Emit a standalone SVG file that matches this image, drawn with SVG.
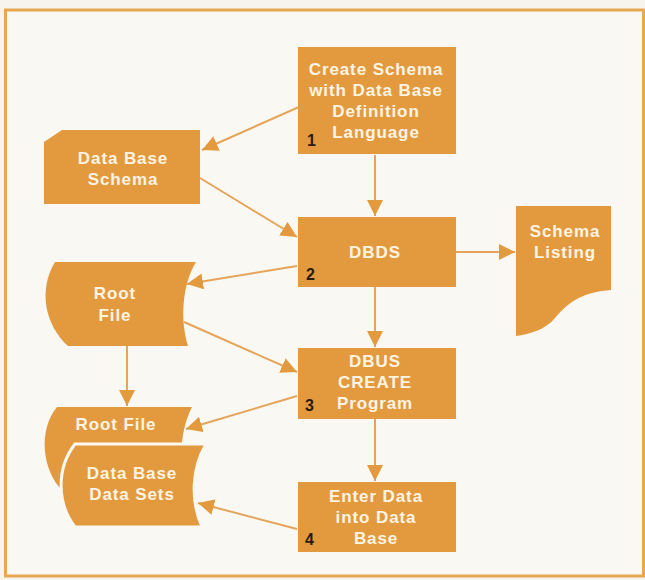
<svg xmlns="http://www.w3.org/2000/svg" width="645" height="580" viewBox="0 0 645 580">
  <defs>
    <marker id="ah" markerUnits="userSpaceOnUse" markerWidth="16" markerHeight="16" refX="16" refY="8" orient="auto">
      <path d="M0,0 L16,8 L0,16 Z" fill="#e39a3f"/>
    </marker>
    <style>
      .box { fill: #e39a3f; }
      .lbl { font-family: "Liberation Sans", Arial, sans-serif; font-weight: bold; font-size: 17px; letter-spacing: 0.9px; fill: #fdf4e3; text-anchor: middle; }
      .num { font-family: "Liberation Sans", Arial, sans-serif; font-weight: bold; font-size: 16px; fill: #2b1a08; }
      .con line { stroke: #e5a459; stroke-width: 2; marker-end: url(#ah); }
    </style>
  </defs>
  <rect x="0" y="0" width="645" height="580" fill="#f7f4ee"/>
  <rect x="5.5" y="10" width="638" height="566" fill="#faf8f3" stroke="#e6a850" stroke-width="3"/>

  <g id="connectors" class="con">
    <line x1="299" y1="107" x2="202" y2="150"/>
    <line x1="200" y1="178" x2="297" y2="237"/>
    <line x1="375" y1="155" x2="375" y2="216"/>
    <line x1="456" y1="252" x2="515" y2="252"/>
    <line x1="297" y1="266" x2="187" y2="284"/>
    <line x1="375" y1="287" x2="375" y2="347"/>
    <line x1="184" y1="322" x2="297" y2="372"/>
    <line x1="127" y1="346" x2="127" y2="406"/>
    <line x1="297" y1="396" x2="186" y2="429"/>
    <line x1="375" y1="419" x2="375" y2="481"/>
    <line x1="297" y1="529" x2="198" y2="503"/>
  </g>

  <g id="create-schema">
    <rect class="box" x="298" y="47" width="158" height="107"/>
    <text class="lbl" x="376" y="75">Create Schema</text>
    <text class="lbl" x="376" y="96">with Data Base</text>
    <text class="lbl" x="376" y="117">Definition</text>
    <text class="lbl" x="376" y="138">Language</text>
    <text class="num" x="307" y="146">1</text>
  </g>

  <g id="data-base-schema">
    <path class="box" d="M62,130 L200,130 L200,204 L44,204 L44,142 Z"/>
    <text class="lbl" x="123" y="164">Data Base</text>
    <text class="lbl" x="123" y="185">Schema</text>
  </g>

  <g id="dbds">
    <rect class="box" x="298" y="217" width="158" height="70"/>
    <text class="lbl" x="375" y="258">DBDS</text>
    <text class="num" x="306" y="280">2</text>
  </g>

  <g id="schema-listing">
    <path class="box" d="M516,206 L611,206 L611,290 C585,292 570,300 555,318 C545,330 530,334 516,336 Z"/>
    <text class="lbl" x="565" y="237">Schema</text>
    <text class="lbl" x="565" y="258">Listing</text>
  </g>

  <g id="root-file-1">
    <path class="box" d="M55,262 L196,262 C182,285 180,320 188,346 L68,346 C45,325 38,290 55,262 Z"/>
    <text class="lbl" x="115" y="299">Root</text>
    <text class="lbl" x="115" y="321">File</text>
  </g>

  <g id="dbus-create">
    <rect class="box" x="298" y="348" width="158" height="71"/>
    <text class="lbl" x="375" y="367">DBUS</text>
    <text class="lbl" x="375" y="388">CREATE</text>
    <text class="lbl" x="375" y="409">Program</text>
    <text class="num" x="305" y="411">3</text>
  </g>

  <g id="root-file-2">
    <path class="box" d="M57,407 L192,407 C180,430 178,465 186,490 L62,490 C42,470 38,430 57,407 Z"/>
    <text class="lbl" x="116" y="430">Root File</text>
  </g>

  <g id="data-sets">
    <path class="box" d="M75,444 L206,444 C192,468 190,500 202,527 L75,527 C58,505 55,470 75,444 Z" stroke="#faf8f3" stroke-width="3"/>
    <text class="lbl" x="132" y="479">Data Base</text>
    <text class="lbl" x="132" y="500">Data Sets</text>
  </g>

  <g id="enter-data">
    <rect class="box" x="298" y="482" width="158" height="70"/>
    <text class="lbl" x="376" y="502">Enter Data</text>
    <text class="lbl" x="376" y="523">into Data</text>
    <text class="lbl" x="376" y="544">Base</text>
    <text class="num" x="305" y="545">4</text>
  </g>
</svg>
